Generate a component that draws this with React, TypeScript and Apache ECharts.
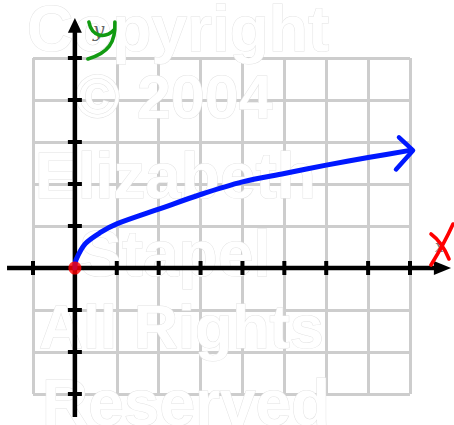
import React, { useEffect, useRef } from "react";
import * as echarts from "echarts";

// ---- data ----
const xMin = -1;
const xMax = 8;
const yMin = -3;
const yMax = 5;
const xTicks = [-1, 1, 2, 3, 4, 5, 6, 7, 8];
const yTicks = [-3, -2, -1, 1, 2, 3, 4, 5];
const curveX = [0, 0.03, 0.25, 0.6, 1, 2, 3, 4, 5, 6, 7, 8];
const curveY = [0, 0.2, 0.58, 0.84, 1.05, 1.4, 1.75, 2.05, 2.25, 2.45, 2.63, 2.8];
const originPoint = [0, 0];
const xAxisLine = [-1.62, 8.57, 8.98]; // start, arrow base, arrow tip (data units)
const yAxisLine = [-3.55, 5.6, 5.95];
const watermarkLines = ["Copyright", "\u00a9 2004", "Elizabeth", "Stapel", "All Rights", "Reserved"];
const xLabel = "x";
const yLabel = "y";

export default function App() {
  const ref = useRef<HTMLDivElement>(null);

  useEffect(() => {
    if (!ref.current) return;
    const chart = echarts.init(ref.current, undefined, { renderer: "svg" });

    const wmPos = [
      [27, 29, 64],
      [75, 97, 61],
      [35, 176, 64],
      [79, 254, 64],
      [39, 327, 61],
      [42, 403, 64],
    ];

    const curveData = curveX.map((x, i) => [x, curveY[i]]);
    const last = curveData[curveData.length - 1];

    const renderAxes = (params: any, api: any) => {
      const c = (x: number, y: number) => api.coord([x, y]);
      const children: any[] = [];
      const axisStyle = { stroke: "#000", lineWidth: 4.5, lineCap: "butt" };
      const tickStyle = { stroke: "#000", lineWidth: 4 };
      // x axis
      const xa = c(xAxisLine[0], 0);
      const xb = c(xAxisLine[1], 0);
      const xt = c(xAxisLine[2], 0);
      children.push({ type: "line", shape: { x1: xa[0], y1: xa[1], x2: xb[0] + 2, y2: xb[1] }, style: axisStyle });
      children.push({
        type: "polygon",
        shape: { points: [[xt[0], xt[1]], [xb[0], xb[1] - 7], [xb[0], xb[1] + 7]] },
        style: { fill: "#000" },
      });
      // y axis
      const ya = c(0, yAxisLine[0]);
      const yb = c(0, yAxisLine[1]);
      const yt = c(0, yAxisLine[2]);
      children.push({ type: "line", shape: { x1: ya[0], y1: ya[1], x2: yb[0], y2: yb[1] - 2 }, style: axisStyle });
      children.push({
        type: "polygon",
        shape: { points: [[yt[0], yt[1]], [yb[0] - 7, yb[1]], [yb[0] + 7, yb[1]]] },
        style: { fill: "#000" },
      });
      // ticks
      xTicks.forEach((v) => {
        const p = c(v, 0);
        children.push({ type: "line", shape: { x1: p[0], y1: p[1] - 7, x2: p[0], y2: p[1] + 7 }, style: tickStyle });
      });
      yTicks.forEach((v) => {
        const p = c(0, v);
        children.push({ type: "line", shape: { x1: p[0] - 7, y1: p[1], x2: p[0] + 7, y2: p[1] }, style: tickStyle });
      });
      // small printed labels
      const yl = c(0, yMax);
      children.push({
        type: "text",
        style: { text: yLabel, x: yl[0] + 18, y: yl[1] - 28, fill: "#666", font: 'italic 20px "DejaVu Serif"', align: "left", verticalAlign: "middle" },
      });
      const xl = c(xMax, 0);
      children.push({
        type: "text",
        style: { text: xLabel, x: xl[0] + 25, y: xl[1] - 22, fill: "#777", font: 'italic 16px "DejaVu Serif"', align: "left", verticalAlign: "middle" },
      });
      // handwritten green y
      const green = { stroke: "#119a11", lineWidth: 3.6, lineCap: "round", fill: null };
      children.push({
        type: "bezierCurve",
        shape: { x1: yl[0] + 14, y1: yl[1] - 36, cpx1: yl[0] + 17, cpy1: yl[1] - 21, cpx2: yl[0] + 30, cpy2: yl[1] - 19, x2: yl[0] + 39, y2: yl[1] - 28 },
        style: green,
      });
      children.push({
        type: "bezierCurve",
        shape: { x1: yl[0] + 40, y1: yl[1] - 36, cpx1: yl[0] + 41, cpy1: yl[1] - 15, cpx2: yl[0] + 33, cpy2: yl[1] - 5, x2: yl[0] + 13, y2: yl[1] + 1 },
        style: green,
      });
      // handwritten red x
      const red = { stroke: "#ff0000", lineWidth: 3.6, lineCap: "round", fill: null };
      children.push({
        type: "bezierCurve",
        shape: { x1: xl[0] + 43, y1: xl[1] - 44, cpx1: xl[0] + 35, cpy1: xl[1] - 26, x2: xl[0] + 21, y2: xl[1] - 3 },
        style: red,
      });
      children.push({
        type: "bezierCurve",
        shape: { x1: xl[0] + 21, y1: xl[1] - 34, cpx1: xl[0] + 32, cpy1: xl[1] - 26, x2: xl[0] + 39, y2: xl[1] - 9 },
        style: red,
      });
      // curve arrowhead
      const e = c(last[0], last[1]);
      children.push({
        type: "polyline",
        shape: { points: [[e[0] - 11, e[1] - 13], [e[0] + 3, e[1]], [e[0] - 14, e[1] + 19]] },
        style: { stroke: "#0018ff", lineWidth: 4.5, lineCap: "round", lineJoin: "round", fill: null },
      });
      return { type: "group", children };
    };

    chart.setOption({
      animation: false,
      backgroundColor: "#ffffff",
      grid: { left: 33, right: 44, top: 58, bottom: 31, containLabel: false },
      xAxis: {
        type: "value",
        min: xMin,
        max: xMax,
        interval: 1,
        axisLine: { show: false },
        axisTick: { show: false },
        axisLabel: { show: false },
        splitLine: { show: true, lineStyle: { color: "#cdcdcd", width: 3 } },
      },
      yAxis: {
        type: "value",
        min: yMin,
        max: yMax,
        interval: 1,
        axisLine: { show: false },
        axisTick: { show: false },
        axisLabel: { show: false },
        splitLine: { show: true, lineStyle: { color: "#cdcdcd", width: 3 } },
      },
      graphic: watermarkLines.map((t, i) => ({
        type: "text",
        x: wmPos[i][0],
        y: wmPos[i][1],
        z: 1,
        silent: true,
        style: {
          text: t,
          fill: "#ffffff",
          stroke: "#e3e3e3",
          lineWidth: 1,
          font: `bold ${wmPos[i][2]}px "Liberation Sans", Arial, sans-serif`,
          align: "left",
          verticalAlign: "middle",
        },
      })),
      series: [
        {
          type: "custom",
          z: 3,
          clip: false,
          silent: true,
          data: [originPoint],
          renderItem: renderAxes,
        },
        {
          type: "line",
          z: 4,
          clip: false,
          silent: true,
          smooth: 0.3,
          showSymbol: false,
          data: curveData,
          lineStyle: { color: "#0018ff", width: 5, cap: "round", join: "round" },
        },
        {
          type: "scatter",
          z: 5,
          silent: true,
          symbolSize: 13,
          data: [originPoint],
          itemStyle: { color: "#ff0000" },
        },
      ],
    });

    return () => chart.dispose();
  }, []);

  return (
    <div
      ref={ref}
      style={{ position: "absolute", left: 0, top: 0, width: 454, height: 425 }}
    />
  );
}
